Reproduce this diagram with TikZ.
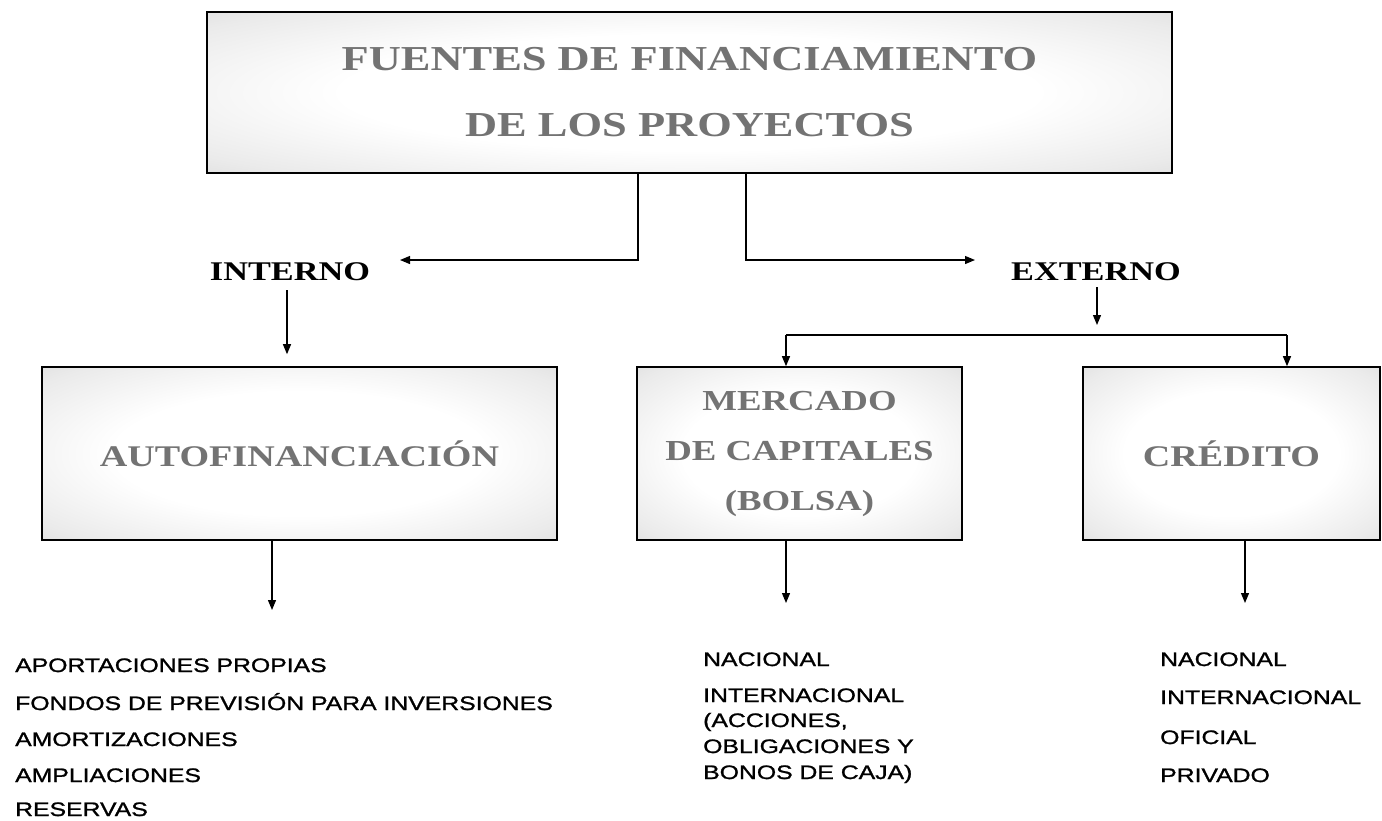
\documentclass[tikz,border=0pt]{standalone}
\usepackage{fontspec}
\setmainfont[FakeStretch=1.27]{Liberation Serif}
\newfontfamily\lsans[FakeStretch=1.27,FakeBold=1.2]{Liberation Sans}
\usetikzlibrary{arrows.meta}
\pgfdeclareradialshading{boxshade}{\pgfpoint{0bp}{0bp}}{color(0bp)=(white); color(18bp)=(white); color(32bp)=(black!8); color(44bp)=(black!18); color(50bp)=(black!25); color(71bp)=(black!32)}
\begin{document}
\begin{tikzpicture}[x=1pt,y=-1pt,
  box/.style={draw=black, line width=1.6pt, shade, shading=boxshade, rectangle, inner sep=0pt, text=black!55, align=center},
  arr/.style={line width=1.2pt, -{Triangle[length=10pt,width=8pt]}},
  ln/.style={line width=1.2pt},
  lbl/.style={font=\fontsize{27}{30}\selectfont\bfseries, text=black, inner sep=0pt},
  item/.style={font=\lsans\fontsize{19.5}{22}\selectfont, anchor=base west, inner sep=0pt, text=black}]
\useasboundingbox (0,0) rectangle (1382,820);

% boxes
\node[box, minimum width=965pt, minimum height=161pt, font=\fontsize{35}{66}\selectfont\bfseries] (top) at (689.5,92.5) {FUENTES DE FINANCIAMIENTO\\DE LOS PROYECTOS};
\node[box, minimum width=515pt, minimum height=173pt, font=\fontsize{30}{36}\selectfont\bfseries] (auto) at (299.5,453.5) {AUTOFINANCIACIÓN};
\node[box, minimum width=325pt, minimum height=173pt, font=\fontsize{29}{50}\selectfont\bfseries] (merc) at (799.5,453.5) {MERCADO\\DE CAPITALES\\(BOLSA)};
\node[box, minimum width=297pt, minimum height=173pt, font=\fontsize{30}{36}\selectfont\bfseries] (cred) at (1231.5,453.5) {CRÉDITO};

% labels
\node[lbl] (int) at (290,272) {INTERNO};
\node[lbl] (ext) at (1096,272) {EXTERNO};

% connectors from title
\coordinate (iL) at (400,260);
\coordinate (eR) at (975,260);
\draw[arr] ([xshift=-51.5pt]top.south) |- (iL);
\draw[arr] ([xshift=56.5pt]top.south) |- (eR);

% interno
\draw[arr] ([xshift=-3pt,yshift=-9pt]int.south) -- ([yshift=12pt]auto.north -| 287,0);

% externo
\coordinate (bus) at (1097,335);
\coordinate (bM) at (786,335);
\coordinate (bC) at (1287,335);
\draw[arr] ([xshift=1pt,yshift=-6pt]ext.south) -- ([yshift=10pt]bus);
\draw[ln] (bM) -- (bC);
\draw[arr] (bM) -- (bM |- merc.north);
\draw[arr] (bC) -- (bC |- cred.north);

% bottom arrows
\coordinate (aE) at (272,610);
\coordinate (mE) at (786,603);
\coordinate (cE) at (1245,603);
\draw[arr] (auto.south -| aE) -- (aE);
\draw[arr] (merc.south -| mE) -- (mE);
\draw[arr] (cred.south -| cE) -- (cE);

% lists
\node[item] (a1) at (15,672) {APORTACIONES PROPIAS};
\node[item] (a2) at (15,710) {FONDOS DE PREVISIÓN PARA INVERSIONES};
\node[item] (a3) at (15,746) {AMORTIZACIONES};
\node[item] (a4) at (15,782) {AMPLIACIONES};
\node[item] (a5) at (15,816) {RESERVAS};

\node[item] (m1) at (703,666) {NACIONAL};
\node[item] (m2) at (703,702) {INTERNACIONAL};
\node[item] (m3) at (703,727) {(ACCIONES,};
\node[item] (m4) at (703,753) {OBLIGACIONES Y};
\node[item] (m5) at (703,779) {BONOS DE CAJA)};

\node[item] (c1) at (1160,666) {NACIONAL};
\node[item] (c2) at (1160,704) {INTERNACIONAL};
\node[item] (c3) at (1160,744) {OFICIAL};
\node[item] (c4) at (1160,782) {PRIVADO};
\end{tikzpicture}
\end{document}
